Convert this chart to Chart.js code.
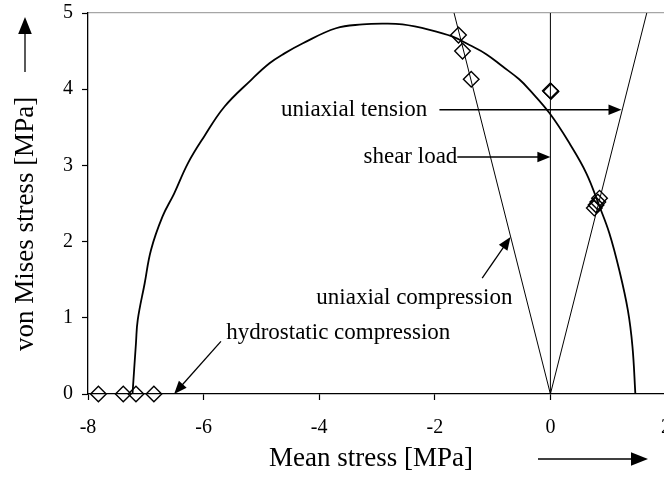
<!DOCTYPE html>
<html>
<head>
<meta charset="utf-8">
<script src="https://cdn.jsdelivr.net/npm/chart.js@4/dist/chart.umd.min.js"></script>
<style>
  html, body { margin: 0; padding: 0; background: #fff; overflow: hidden; }
  canvas { display: block; }
</style>
</head>
<body>
<canvas id="myChart" width="680" height="477"></canvas>
<script>
// failure envelope
const envelopeX = [-7.23, -7.17, -7.14, -7.02, -6.91, -6.71, -6.51, -6.27, -5.99, -5.64, -5.18, -4.86, -4.60, -4.29, -3.71, -3.25, -2.90, -2.56, -2.09, -1.69, -1.40, -1.11, -0.83, -0.54, -0.36, -0.01, 0.33, 0.62, 0.85, 1.02, 1.19, 1.34, 1.42, 1.47]
const envelopeY = [0, 0.67, 0.97, 1.45, 1.89, 2.33, 2.63, 3.03, 3.38, 3.77, 4.12, 4.34, 4.47, 4.60, 4.80, 4.85, 4.86, 4.85, 4.78, 4.69, 4.58, 4.46, 4.30, 4.13, 3.99, 3.68, 3.29, 2.90, 2.46, 2.11, 1.63, 1.10, 0.62, 0]

// test results (diamonds)
const testX = [-7.82, -7.39, -7.17, -6.86, -1.59, -1.52, -1.37, 0, 0.01, 0.85, 0.79, 0.82, 0.76]
const testY = [0, 0, 0, 0, 4.71, 4.50, 4.13, 3.98, 3.97, 2.57, 2.48, 2.52, 2.44]

// load paths from the origin
const compressionX = [0, -1.667]
const compressionY = [0, 5]
const tensionX = [0, 1.667]
const tensionY = [0, 5]
const shearX = [0, 0]
const shearY = [0, 5]

const xTicks = [-8, -6, -4, -2, 0, 2]
const yTicks = [0, 1, 2, 3, 4, 5]

const xTitle = "Mean stress [MPa]"
const yTitle = "von Mises stress [MPa]"

// annotation texts with arrow tail / tip in data units
const noteText = ["uniaxial tension", "shear load", "uniaxial compression", "hydrostatic compression"]
const noteAlign = ["right", "right", "left", "left"]
const noteTextX = [-2.13, -1.61, -4.05, -5.61]
const noteTextY = [3.73, 3.11, 1.26, 0.80]
const noteTailX = [-1.92, -1.61, -1.18, -5.70]
const noteTailY = [3.73, 3.11, 1.52, 0.69]
const noteTipX = [1.23, 0, -0.69, -6.51]
const noteTipY = [3.73, 3.11, 2.06, 0]

const FONT = "'Liberation Serif', 'Times New Roman', serif"

const toPoints = (xs, ys) => xs.map((x, i) => ({ x: x, y: ys[i] }))

const drawArrow = (ctx, x1, y1, x2, y2, head) => {
    const ang = Math.atan2(y2 - y1, x2 - x1)
    ctx.beginPath()
    ctx.moveTo(x1, y1)
    ctx.lineTo(x2 - Math.cos(ang) * head * 0.8, y2 - Math.sin(ang) * head * 0.8)
    ctx.stroke()
    ctx.beginPath()
    ctx.moveTo(x2, y2)
    ctx.lineTo(x2 - head * Math.cos(ang) + (head * 0.4) * Math.sin(ang), y2 - head * Math.sin(ang) - (head * 0.4) * Math.cos(ang))
    ctx.lineTo(x2 - head * Math.cos(ang) - (head * 0.4) * Math.sin(ang), y2 - head * Math.sin(ang) + (head * 0.4) * Math.cos(ang))
    ctx.closePath()
    ctx.fill()
}

const notesPlugin = {
    id: "notes",
    afterDraw(chart) {
        const ctx = chart.ctx
        const xs = chart.scales.x
        const ys = chart.scales.y
        const area = chart.chartArea
        ctx.save()
        ctx.fillStyle = "#000"
        ctx.strokeStyle = "#000"
        ctx.lineWidth = 1.3

        // annotations
        ctx.font = "23px " + FONT
        ctx.textBaseline = "middle"
        for (let i = 0; i < noteText.length; i++) {
            ctx.textAlign = noteAlign[i]
            ctx.fillText(noteText[i], xs.getPixelForValue(noteTextX[i]), ys.getPixelForValue(noteTextY[i]))
            drawArrow(ctx,
                xs.getPixelForValue(noteTailX[i]), ys.getPixelForValue(noteTailY[i]),
                xs.getPixelForValue(noteTipX[i]), ys.getPixelForValue(noteTipY[i]), 13)
        }

        // axis titles with their arrows
        ctx.font = "27px " + FONT
        ctx.textAlign = "center"
        ctx.fillText(xTitle, 371, area.bottom + 65)
        drawArrow(ctx, 538, area.bottom + 65, 648, area.bottom + 65, 17)

        ctx.save()
        ctx.translate(area.left - 62, area.top + 211)
        ctx.rotate(-Math.PI / 2)
        ctx.fillText(yTitle, 0, 0)
        ctx.restore()
        drawArrow(ctx, area.left - 63, area.top + 59, area.left - 63, area.top + 4, 17)
        ctx.restore()
    }
}

const lineStyle = {
    showLine: true,
    pointRadius: 0,
    borderColor: "#000",
    borderWidth: 1,
    fill: false
}

const ctx = document.getElementById("myChart").getContext("2d")
const myChart = new Chart(ctx, {
    type: "scatter",
    data: {
        datasets: [
            { ...lineStyle, data: toPoints(envelopeX, envelopeY), borderWidth: 1.8, tension: 0.4 },
            { ...lineStyle, data: toPoints(compressionX, compressionY) },
            { ...lineStyle, data: toPoints(tensionX, tensionY) },
            { ...lineStyle, data: toPoints(shearX, shearY) },
            {
                data: toPoints(testX, testY),
                showLine: false,
                clip: false,
                pointStyle: "rectRot",
                pointRadius: 7.8,
                pointBackgroundColor: "rgba(255,255,255,0)",
                pointBorderColor: "#000",
                pointBorderWidth: 1.4
            }
        ]
    },
    options: {
        responsive: false,
        animation: false,
        events: [],
        layout: { padding: { top: 13, right: 14, left: 0, bottom: 0 } },
        plugins: {
            legend: { display: false },
            tooltip: { enabled: false }
        },
        scales: {
            x: {
                type: "linear",
                position: "bottom",
                min: -8,
                max: 2,
                afterBuildTicks: s => { s.ticks = xTicks.map(v => ({ value: v })) },
                ticks: { color: "#000", font: { family: FONT, size: 20 }, padding: 16, maxRotation: 0 },
                grid: { drawOnChartArea: false, tickLength: 6, tickColor: "#000", tickWidth: 1.2 },
                border: { color: "#000", width: 1.3 },
                afterFit: s => { s.height = 83; s.paddingLeft = 0; s.paddingRight = 0 }
            },
            top: {
                type: "linear",
                position: "top",
                min: -8,
                max: 2,
                ticks: { display: false },
                grid: { display: false },
                border: { color: "#a6a6a6", width: 1.3 },
                afterFit: s => { s.height = 0; s.paddingLeft = 0; s.paddingRight = 0 }
            },
            y: {
                min: 0,
                max: 5,
                afterBuildTicks: s => { s.ticks = yTicks.map(v => ({ value: v })) },
                ticks: { color: "#000", font: { family: FONT, size: 20 }, padding: 9 },
                grid: { drawOnChartArea: false, tickLength: 6, tickColor: "#000", tickWidth: 1.2 },
                border: { color: "#000", width: 1.3 },
                afterFit: s => { s.width = 88; s.paddingTop = 0; s.paddingBottom = 0 }
            }
        }
    },
    plugins: [notesPlugin]
})
</script>
</body>
</html>
